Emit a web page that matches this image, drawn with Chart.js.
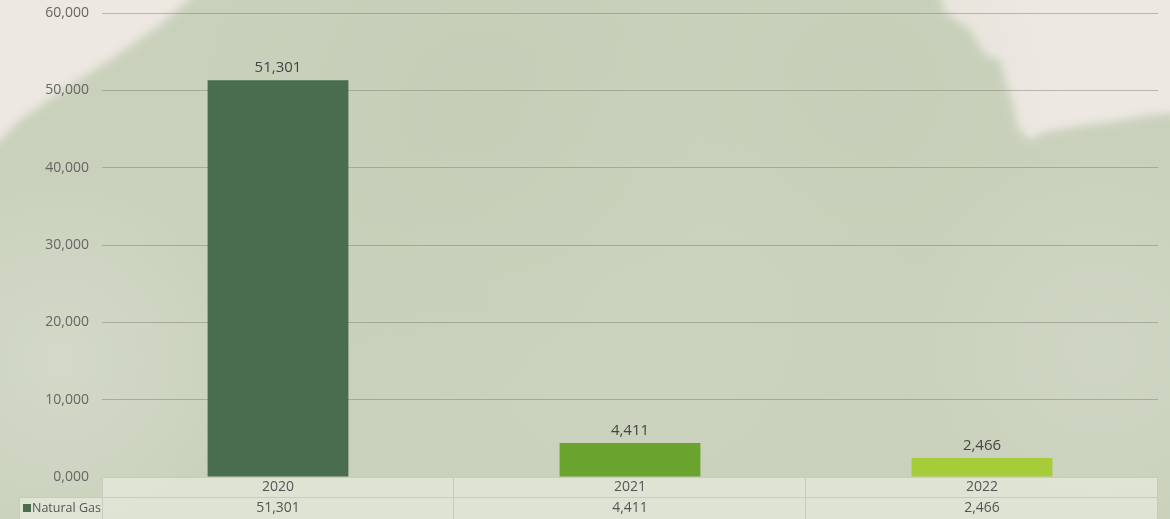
<!DOCTYPE html>
<html>
<head>
<meta charset="utf-8">
<script src="https://cdn.jsdelivr.net/npm/chart.js@4.4.1/dist/chart.umd.min.js"></script>
<style>
  html, body { margin: 0; padding: 0; background: #ece7e0; }
  #wrap { position: relative; width: 1170px; height: 519px; }
  canvas { display: block; }
</style>
</head>
<body>
<div id="wrap"><canvas id="gas" width="1170" height="519"></canvas></div>
<script>
  "use strict";

  // data
  var years = ["2020", "2021", "2022"];
  var seriesName = "Natural Gas";
  var gasValues = [51301, 4411, 2466];
  var yTicks = [0, 10000, 20000, 30000, 40000, 50000, 60000];
  var barColors = ["#4a6d4f", "#6aa42e", "#a7cc3a"];

  var FONT = "'Open Sans', sans-serif";

  // number format "0,000"
  function fmt(v) {
    var s = String(Math.round(v));
    while (s.length < 4) s = "0" + s;
    return s.replace(/\B(?=(\d{3})+(?!\d))/g, ",");
  }

  // paper + green wash behind everything
  var paper = {
    id: "paper",
    beforeDraw: function (chart) {
      var ctx = chart.ctx, w = chart.width, h = chart.height;
      ctx.save();
      ctx.fillStyle = "#ede8e2";
      ctx.fillRect(0, 0, w, h);

      ctx.filter = "blur(4px)";
      ctx.fillStyle = "#c9d1bc";
      ctx.beginPath();
      ctx.moveTo(210, -20);
      ctx.lineTo(935, -20);
      ctx.lineTo(945, 12);
      ctx.lineTo(970, 30);
      ctx.lineTo(985, 55);
      ctx.lineTo(1000, 60);
      ctx.lineTo(1005, 80);
      ctx.lineTo(1012, 100);
      ctx.lineTo(1018, 128);
      ctx.lineTo(1030, 140);
      ctx.lineTo(1045, 132);
      ctx.lineTo(1080, 126);
      ctx.lineTo(1110, 122);
      ctx.lineTo(1150, 115);
      ctx.lineTo(1190, 112);
      ctx.lineTo(1190, 540);
      ctx.lineTo(-20, 540);
      ctx.lineTo(-20, 160);
      ctx.lineTo(20, 120);
      ctx.lineTo(70, 85);
      ctx.lineTo(110, 60);
      ctx.lineTo(160, 25);
      ctx.closePath();
      ctx.fill();
      ctx.filter = "none";

      // uneven tint inside the wash
      var spots = [
        [480, 110, 280, "rgba(180,196,165,0.22)"],
        [860, 90, 200, "rgba(185,198,168,0.18)"],
        [60, 360, 190, "rgba(228,229,218,0.40)"],
        [1100, 350, 200, "rgba(222,224,212,0.28)"],
        [640, 320, 300, "rgba(212,216,200,0.20)"]
      ];
      spots.forEach(function (s) {
        var g = ctx.createRadialGradient(s[0], s[1], 0, s[0], s[1], s[2]);
        g.addColorStop(0, s[3]);
        g.addColorStop(1, s[3].replace(/[\d.]+\)$/, "0)"));
        ctx.fillStyle = g;
        ctx.fillRect(0, 0, w, h);
      });
      ctx.restore();
    }
  };

  // value labels above bars and the data table under the plot
  var labelsAndTable = {
    id: "labelsAndTable",
    afterDraw: function (chart) {
      var ctx = chart.ctx, area = chart.chartArea;
      var meta = chart.getDatasetMeta(0);
      var x = chart.scales.x;
      ctx.save();

      ctx.font = "15px " + FONT;
      ctx.fillStyle = "#444444";
      ctx.textAlign = "center";
      ctx.textBaseline = "bottom";
      meta.data.forEach(function (bar, i) {
        ctx.fillText(fmt(gasValues[i]), bar.x, bar.y - 5);
      });

      var half = (area.right - area.left) / years.length / 2;
      var top = area.bottom, mid = area.bottom + 20, bot = chart.height;
      var legLeft = 19.5;

      ctx.fillStyle = "rgba(248,248,240,0.45)";
      ctx.fillRect(area.left, top, area.right - area.left, bot - top);
      ctx.fillRect(legLeft, mid, area.left - legLeft, bot - mid);

      ctx.strokeStyle = "#c9cbc2";
      ctx.lineWidth = 1;
      ctx.beginPath();
      ctx.moveTo(area.left, top + 0.5); ctx.lineTo(area.right, top + 0.5);
      ctx.moveTo(legLeft, mid + 0.5); ctx.lineTo(area.right, mid + 0.5);
      ctx.moveTo(legLeft, mid); ctx.lineTo(legLeft, bot);
      ctx.moveTo(area.left + 0.5, top); ctx.lineTo(area.left + 0.5, bot);
      for (var i = 0; i < years.length; i++) {
        var edge = Math.round(x.getPixelForValue(i) + half) - 0.5;
        ctx.moveTo(edge, top); ctx.lineTo(edge, bot);
      }
      ctx.stroke();

      ctx.font = "14px " + FONT;
      ctx.fillStyle = "#555555";
      ctx.textBaseline = "middle";
      years.forEach(function (yr, i) {
        var cx = x.getPixelForValue(i);
        ctx.fillText(yr, cx, top + 10.5);
        ctx.fillText(fmt(gasValues[i]), cx, mid + 11);
      });

      ctx.fillStyle = barColors[0];
      ctx.fillRect(23, mid + 7, 8, 8);
      ctx.font = "12.5px " + FONT;
      ctx.fillStyle = "#555555";
      ctx.textAlign = "left";
      ctx.fillText(seriesName, 32, mid + 11);
      ctx.restore();
    }
  };

  var ctx = document.getElementById("gas").getContext("2d");
  new Chart(ctx, {
    type: "bar",
    data: {
      labels: years,
      datasets: [{
        label: seriesName,
        data: gasValues,
        backgroundColor: barColors,
        borderWidth: 0,
        categoryPercentage: 1,
        barPercentage: 0.4
      }]
    },
    options: {
      responsive: false,
      animation: false,
      layout: { padding: { top: 0, right: 12, bottom: 42, left: 0 } },
      plugins: { legend: { display: false }, tooltip: { enabled: false } },
      scales: {
        x: { display: false },
        y: {
          min: 0,
          max: 60000,
          afterFit: function (scale) { scale.width = 102; scale.paddingTop = 13; },
          afterBuildTicks: function (scale) {
            scale.ticks = yTicks.map(function (v) { return { value: v }; });
          },
          ticks: {
            padding: 13,
            color: "#666666",
            font: { family: FONT, size: 14 },
            callback: function (v) { return fmt(v); }
          },
          grid: { color: "rgba(120,122,110,0.45)", drawTicks: false },
          border: { display: false }
        }
      }
    },
    plugins: [paper, labelsAndTable]
  });
</script>
</body>
</html>
